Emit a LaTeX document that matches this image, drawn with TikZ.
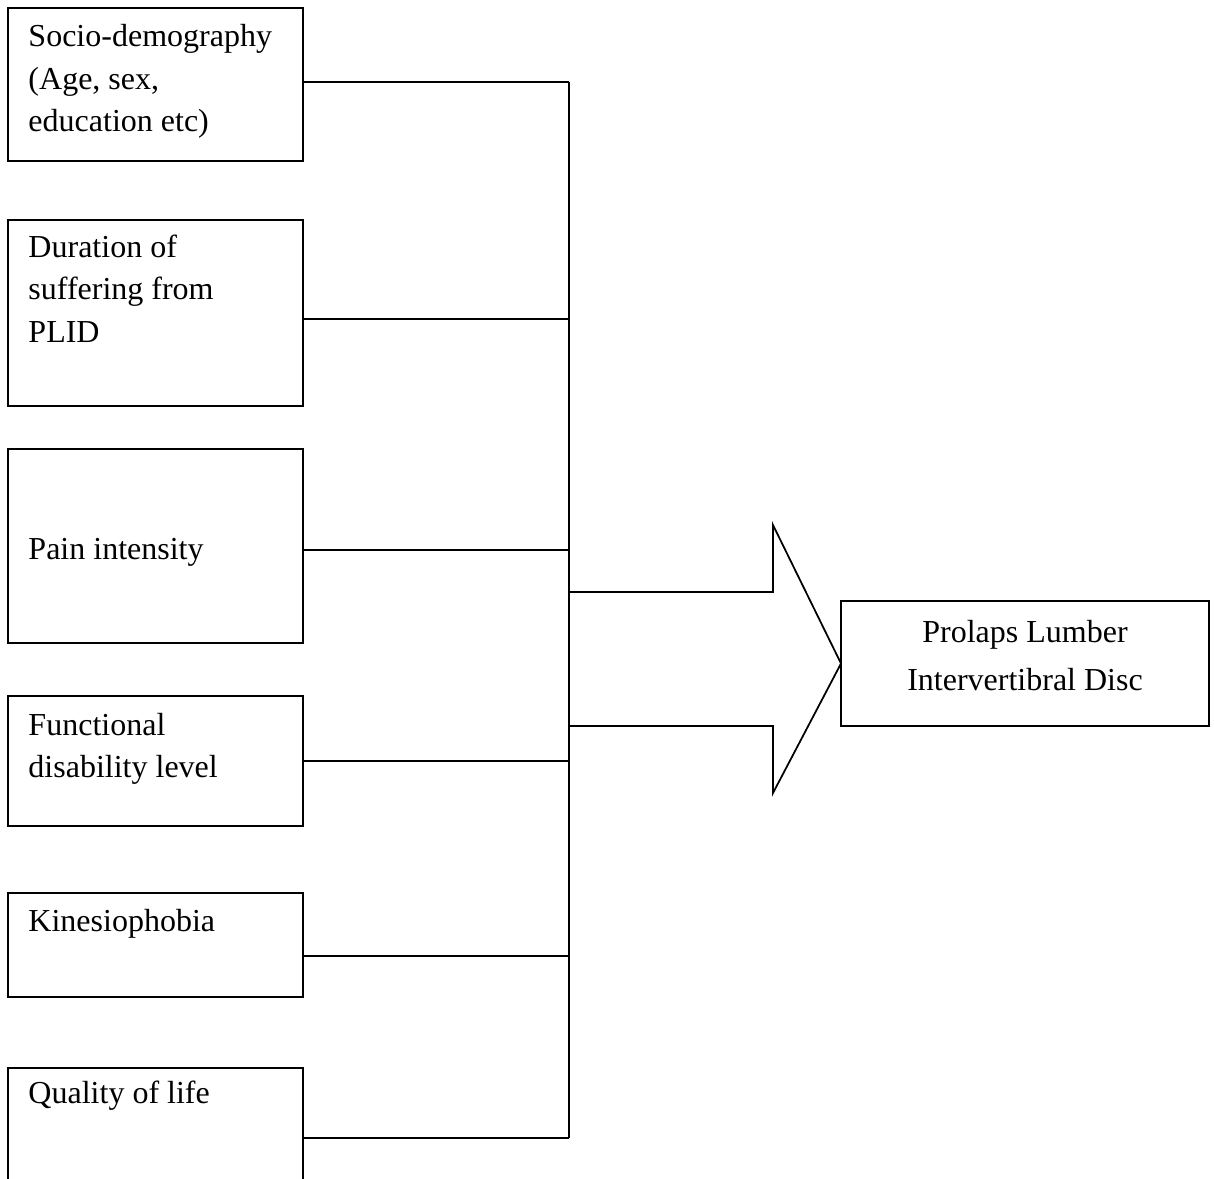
\documentclass[tikz,border=0pt]{standalone}
\usepackage{fontspec}
\setmainfont{Liberation Serif}
\usetikzlibrary{fit}
\begin{document}
\begin{tikzpicture}[x=0.4pt,y=-0.4pt,
  box/.style={draw,line width=0.7pt,inner sep=0pt,outer sep=0pt},
  lbl/.style={anchor=base west,inner sep=0pt,font=\fontsize{12.8}{17}\selectfont},
  conn/.style={line width=0.7pt},
  bigarrow/.style={line width=0.7pt,line join=miter}]
\useasboundingbox (0,0) rectangle (1214,1179);
% factor boxes
\node[box,fit={(8,8) (303,161)}] (b1) {};
\node[box,fit={(8,220) (303,406)}] (b2) {};
\node[box,fit={(8,449) (303,643)}] (b3) {};
\node[box,fit={(8,696) (303,826)}] (b4) {};
\node[box,fit={(8,893) (303,997)}] (b5) {};
% last box, cut off at the bottom edge
\coordinate (b6bl) at (8,1182);
\coordinate (b6tl) at (8,1068);
\coordinate (b6tr) at (303,1068);
\coordinate (b6br) at (303,1182);
\draw[conn] (b6bl) -- (b6tl) -- (b6tr) -- (b6br);
% texts
\node[lbl] (t1) at (28,47) {\begin{tabular}[t]{@{}l@{}}Socio-demography\\(Age, sex,\\education etc)\end{tabular}};
\node[lbl] (t2) at (28,257) {\begin{tabular}[t]{@{}l@{}}Duration of\\suffering from\\PLID\end{tabular}};
\node[lbl] (t3) at (28,559) {Pain intensity};
\node[lbl] (t4) at (28,735) {\begin{tabular}[t]{@{}l@{}}Functional\\disability level\end{tabular}};
\node[lbl] (t5) at (28,931) {Kinesiophobia};
\node[lbl] (t6) at (28,1103) {Quality of life};
% result box
\node[box,fit={(841,601) (1209,726)}] (res) {};
\node[lbl,anchor=base] (tr1) at (1025,642) {Prolaps Lumber};
\node[lbl,anchor=base] (tr2) at (1025,690) {Intervertibral Disc};
% bus
\coordinate (top) at (569,82);
\coordinate (bot) at (569,1138);
\draw[conn] (top) -- (bot);
\draw[conn] (b1.east |- top) -- (top);
\draw[conn] (b2.east |- 0,319) -- (569,319);
\draw[conn] (b3.east |- 0,550) -- (569,550);
\draw[conn] (b4.east |- 0,761) -- (569,761);
\draw[conn] (b5.east |- 0,956) -- (569,956);
\draw[conn] (b6tr |- bot) -- (bot);
% block arrow
\coordinate (a1) at (569,592);
\coordinate (a2) at (773,592);
\coordinate (a3) at (773,525);
\coordinate (tip) at (res.west);
\coordinate (a5) at (773,793);
\coordinate (a6) at (773,726);
\coordinate (a7) at (569,726);
\draw[bigarrow] (a1) -- (a2) -- (a3) -- (tip) -- (a5) -- (a6) -- (a7);
\end{tikzpicture}
\end{document}
